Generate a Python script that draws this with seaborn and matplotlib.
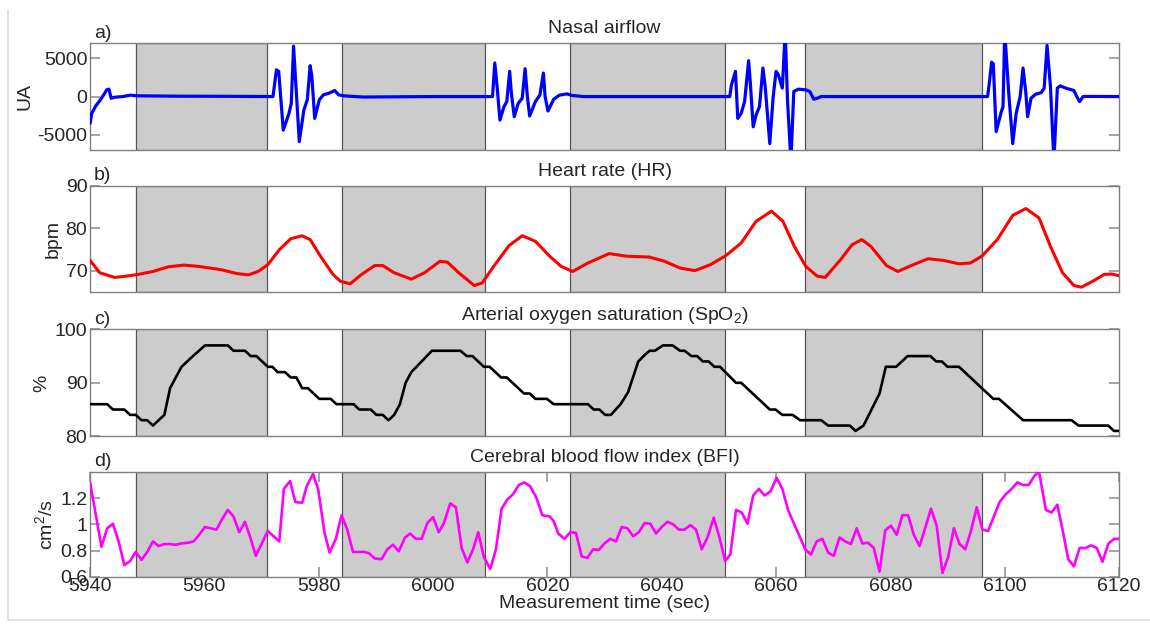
import matplotlib
matplotlib.use("Agg")
import matplotlib.pyplot as plt
from matplotlib.lines import Line2D
import seaborn as sns

# apnea episodes (grey bands), seconds
apnea_start = [5948, 5984, 6024, 6065]
apnea_end = [5971, 6009, 6051, 6096]

# a) nasal airflow (UA)
airflow_t = [5940.0, 5940.3, 5941.0, 5941.8, 5942.5, 5942.9, 5943.3, 5943.7, 5944.3, 5945.7,
             5947.0, 5948.3, 5955.0, 5965.0, 5971.8, 5972.0, 5972.6, 5973.0, 5973.8, 5974.8,
             5975.2, 5975.6, 5976.6, 5977.4, 5978.0, 5978.5, 5978.8, 5979.3, 5980.1, 5980.8,
             5981.8, 5982.8, 5983.5, 5984.5, 5987.8, 6000.0, 6010.2, 6010.4, 6010.8, 6011.2,
             6011.7, 6012.4, 6012.9, 6013.4, 6013.7, 6014.2, 6014.9, 6015.6, 6016.1, 6016.5,
             6016.9, 6017.9, 6018.7, 6019.3, 6019.6, 6020.1, 6021.1, 6022.1, 6023.4, 6024.4,
             6026.4, 6040.0, 6051.9, 6052.2, 6052.9, 6053.3, 6053.9, 6054.5, 6055.2, 6055.5,
             6056.0, 6056.5, 6057.1, 6057.7, 6058.1, 6058.9, 6059.5, 6060.0, 6060.4, 6061.1,
             6061.6, 6062.0, 6062.6, 6063.1, 6063.9, 6065.2, 6065.9, 6066.6, 6067.2, 6067.9,
             6080.0, 6097.0, 6097.3, 6097.7, 6098.0, 6098.5, 6099.4, 6099.7, 6100.0, 6100.7,
             6101.4, 6102.0, 6102.7, 6103.2, 6103.7, 6104.0, 6104.6, 6105.4, 6106.4, 6106.9,
             6107.4, 6108.0, 6108.6, 6109.2, 6109.7, 6110.7, 6112.1, 6112.6, 6113.1, 6113.7,
             6114.1, 6120.0]
airflow_v = [-3520, -2200, -1230, -440, 350, 880, 970, -220, -90, 0,
             180, 100, 50, 30, 0, 0, 3500, 3300, -4400, -2200,
             -880, 6600, -5900, -1760, -440, 4050, 2640, -2860, -440, 220,
             440, 800, 220, 90, -60, 0, 0, 0, 4400, 1320,
             -3080, -1320, -660, 3300, 440, -2640, -880, -220, 3650, 0,
             -2550, -660, 220, 3080, 0, -1890, -350, 180, 350, 130,
             0, 0, 0, 1540, 3300, -2860, -2200, -660, 4700, 1760,
             -3960, -2420, -1320, 3740, 1320, -6160, 0, 3300, 2860, 1100,
             8500, -440, -8500, 660, 970, 880, 660, -350, -220, 0,
             0, 0, 1760, 4500, 4300, -4600, -1980, -1320, 8500, 440,
             -6160, -2200, 0, 3740, 440, -2640, -220, 300, 530, 1100,
             6700, 1320, -8500, 1100, 1400, 1100, 800, 0, -660, 0,
             20, 0]

# b) heart rate (bpm)
hr_t = [5940.0, 5941.7, 5944.3, 5946.3, 5948.4, 5951.0, 5953.7, 5956.4, 5959.0, 5963.0,
        5965.7, 5967.7, 5969.4, 5971.1, 5973.1, 5975.1, 5977.1, 5978.5, 5980.5, 5982.5,
        5983.8, 5985.5, 5987.5, 5989.8, 5991.2, 5993.2, 5996.2, 5998.5, 6001.2, 6002.5,
        6004.5, 6007.2, 6008.6, 6010.6, 6013.3, 6015.6, 6017.9, 6020.4, 6022.4, 6024.4,
        6027.1, 6030.8, 6033.8, 6037.8, 6040.5, 6043.2, 6045.8, 6048.5, 6051.2, 6053.9,
        6056.5, 6059.2, 6061.2, 6063.2, 6065.2, 6067.2, 6068.6, 6071.3, 6073.3, 6075.0,
        6076.6, 6079.3, 6081.3, 6084.0, 6086.6, 6089.3, 6092.0, 6094.0, 6096.0, 6098.7,
        6101.4, 6103.7, 6106.0, 6108.0, 6110.1, 6112.1, 6113.4, 6115.4, 6117.4, 6118.7,
        6120.0]
hr_v = [72.4, 69.5, 68.4, 68.7, 69.1, 69.8, 70.9, 71.3, 71.0, 70.2,
        69.3, 69.0, 69.8, 71.4, 74.9, 77.5, 78.2, 77.3, 73.0, 69.1,
        67.5, 66.9, 69.1, 71.2, 71.2, 69.5, 68.0, 69.5, 72.2, 72.0,
        69.5, 66.5, 67.1, 71.0, 75.9, 78.2, 76.9, 73.4, 71.0, 69.8,
        71.8, 74.0, 73.4, 73.2, 72.2, 70.6, 70.0, 71.4, 73.5, 76.5,
        81.6, 84.0, 81.6, 75.7, 71.0, 68.7, 68.4, 72.6, 76.1, 77.3,
        75.7, 71.2, 69.8, 71.4, 72.8, 72.4, 71.6, 71.8, 73.4, 77.3,
        83.0, 84.6, 82.4, 75.7, 69.5, 66.5, 66.1, 67.5, 69.1, 69.2,
        68.8]

# c) SpO2 (%)
spo2_t = [5940.0, 5943.0, 5944.0, 5946.0, 5947.0, 5948.0, 5949.0, 5950.0, 5951.0, 5953.0,
          5954.0, 5956.0, 5957.7, 5960.1, 5964.1, 5965.1, 5967.1, 5968.1, 5969.1, 5971.1,
          5971.9, 5972.8, 5974.1, 5975.1, 5976.1, 5977.1, 5978.1, 5980.1, 5982.1, 5983.1,
          5986.1, 5987.1, 5989.1, 5990.1, 5991.2, 5992.2, 5993.2, 5994.2, 5995.2, 5996.2,
          5999.8, 6004.8, 6005.9, 6006.9, 6008.9, 6009.9, 6011.9, 6012.9, 6015.9, 6016.9,
          6017.9, 6019.9, 6021.1, 6027.1, 6028.1, 6029.1, 6030.1, 6031.1, 6032.8, 6034.1,
          6035.9, 6037.1, 6037.9, 6038.8, 6040.2, 6041.9, 6043.2, 6044.0, 6045.2, 6046.2,
          6047.2, 6048.2, 6049.2, 6050.2, 6053.0, 6053.9, 6058.9, 6059.9, 6061.1, 6062.9,
          6064.2, 6067.9, 6069.1, 6072.9, 6073.9, 6075.3, 6078.1, 6079.2, 6081.0, 6083.0,
          6087.0, 6088.0, 6089.0, 6090.0, 6092.0, 6098.0, 6099.0, 6103.2, 6111.7, 6112.9,
          6118.1, 6119.1, 6120.0]
spo2_v = [86, 86, 85, 85, 84, 84, 83, 83, 82, 84,
          89, 93, 94.7, 97, 97, 96, 96, 95, 95, 93,
          93, 92, 92, 91, 91, 89, 89, 87, 87, 86,
          86, 85, 85, 84, 84, 83, 84, 86, 90, 92,
          96, 96, 95, 95, 93, 93, 91, 91, 88, 88,
          87, 87, 86, 86, 85, 85, 84, 84, 86, 88.2,
          94, 95.3, 96, 96, 97, 97, 96, 96, 95, 95,
          94, 94, 93, 93, 90, 90, 85, 85, 84, 84,
          83, 83, 82, 82, 81, 82, 88, 93, 93, 95,
          95, 94, 94, 93, 93, 87, 87, 83, 83, 82,
          82, 81, 81]

# d) cerebral blood flow index (cm^2/s)
bfi_t = [5940.0, 5942.0, 5943.0, 5944.0, 5945.0, 5946.0, 5947.0, 5948.0, 5949.0, 5950.0,
         5951.0, 5952.0, 5953.0, 5954.0, 5955.0, 5956.0, 5957.1, 5958.1, 5958.9, 5960.1,
         5962.1, 5963.1, 5964.1, 5965.1, 5966.1, 5967.1, 5968.1, 5969.0, 5970.1, 5971.1,
         5973.1, 5973.9, 5975.0, 5975.9, 5977.1, 5977.9, 5979.0, 5979.9, 5981.0, 5981.9,
         5983.0, 5984.0, 5985.0, 5986.0, 5988.0, 5988.8, 5989.8, 5991.0, 5992.0, 5993.0,
         5994.0, 5995.1, 5996.0, 5997.0, 5998.0, 5999.0, 6000.0, 6001.0, 6001.9, 6003.0,
         6004.0, 6005.0, 6006.0, 6007.0, 6007.9, 6008.9, 6010.0, 6011.0, 6012.0, 6013.0,
         6014.0, 6015.0, 6016.0, 6017.0, 6018.1, 6019.1, 6020.4, 6021.1, 6021.9, 6023.0,
         6024.0, 6025.0, 6026.0, 6027.0, 6028.0, 6029.0, 6030.0, 6031.0, 6032.0, 6033.0,
         6034.0, 6035.0, 6036.0, 6037.0, 6038.0, 6039.0, 6040.0, 6041.0, 6042.0, 6043.0,
         6044.0, 6045.0, 6046.0, 6047.0, 6048.0, 6049.1, 6050.1, 6051.1, 6052.0, 6053.0,
         6054.0, 6055.0, 6056.0, 6057.0, 6058.0, 6059.0, 6060.1, 6061.1, 6062.1, 6063.1,
         6064.1, 6065.1, 6066.1, 6067.1, 6068.1, 6069.1, 6070.1, 6071.1, 6072.1, 6073.1,
         6074.1, 6075.1, 6076.1, 6077.1, 6078.1, 6079.1, 6080.1, 6081.1, 6082.1, 6083.1,
         6084.1, 6085.1, 6086.1, 6087.1, 6088.1, 6089.1, 6090.1, 6091.1, 6092.1, 6093.1,
         6094.1, 6095.1, 6096.1, 6097.1, 6098.1, 6099.1, 6100.2, 6101.2, 6102.2, 6103.2,
         6104.2, 6105.2, 6106.0, 6107.2, 6108.2, 6109.2, 6110.2, 6111.1, 6112.1, 6113.1,
         6114.1, 6115.1, 6116.1, 6117.1, 6118.1, 6119.1, 6120.0]
bfi_v = [1.32, 0.83, 0.97, 1.005, 0.87, 0.69, 0.72, 0.79, 0.73, 0.79,
         0.87, 0.835, 0.85, 0.85, 0.845, 0.855, 0.86, 0.87, 0.91, 0.98,
         0.96, 1.04, 1.11, 1.06, 0.94, 1.02, 0.89, 0.76, 0.86, 0.95,
         0.87, 1.27, 1.33, 1.17, 1.165, 1.29, 1.385, 1.27, 0.94, 0.785,
         0.89, 1.07, 0.96, 0.79, 0.79, 0.78, 0.74, 0.735, 0.81, 0.845,
         0.795, 0.90, 0.93, 0.89, 0.89, 1.01, 1.055, 0.94, 1.01, 1.16,
         1.13, 0.82, 0.71, 0.81, 0.94, 0.75, 0.66, 0.81, 1.12, 1.19,
         1.23, 1.30, 1.32, 1.29, 1.20, 1.07, 1.06, 1.025, 0.93, 0.89,
         0.94, 0.935, 0.755, 0.745, 0.81, 0.805, 0.855, 0.89, 0.87, 0.98,
         0.97, 0.91, 0.94, 1.01, 1.005, 0.93, 0.98, 1.02, 1.0, 0.96,
         0.96, 0.995, 0.96, 0.81, 0.90, 1.05, 0.90, 0.72, 0.77, 1.11,
         1.09, 1.005, 1.22, 1.27, 1.22, 1.25, 1.355, 1.27, 1.11, 1.01,
         0.91, 0.81, 0.77, 0.87, 0.89, 0.785, 0.76, 0.90, 0.87, 0.85,
         0.97, 0.855, 0.86, 0.82, 0.64, 0.955, 0.99, 0.92, 1.07, 1.07,
         0.92, 0.835, 0.975, 1.12, 0.99, 0.63, 0.75, 0.97, 0.85, 0.81,
         0.95, 1.13, 0.96, 0.95, 1.06, 1.17, 1.23, 1.27, 1.32, 1.30,
         1.30, 1.37, 1.40, 1.11, 1.09, 1.15, 0.94, 0.735, 0.68, 0.82,
         0.82, 0.84, 0.82, 0.715, 0.85, 0.89, 0.89]

time_ticks = [5940, 5960, 5980, 6000, 6020, 6040, 6060, 6080, 6100, 6120]

panels = [
    ("a)", "Nasal airflow", "UA", airflow_t, airflow_v, "#0000ff", 2.3,
     (-7000, 7000), [-5000, 0, 5000], ["-5000", "0", "5000"], (0.760, 0.171)),
    ("b)", "Heart rate (HR)", "bpm", hr_t, hr_v, "#ff0000", 2.2,
     (65, 90), [70, 80, 90], ["70", "80", "90"], (0.533, 0.170)),
    ("c)", "Arterial oxygen saturation (SpO$_2$)", "%", spo2_t, spo2_v, "#000000", 1.9,
     (80, 100), [80, 90, 100], ["80", "90", "100"], (0.302, 0.171)),
    ("d)", "Cerebral blood flow index (BFI)", "cm$^2$/s", bfi_t, bfi_v, "#ff00ff", 1.9,
     (0.6, 1.4), [0.6, 0.8, 1.0, 1.2], ["0.6", "0.8", "1", "1.2"], (0.077, 0.168)),
]

sns.set_theme(style="white")
plt.rcParams["font.family"] = ["Liberation Sans", "DejaVu Sans"]
plt.rcParams["mathtext.fontset"] = "custom"
plt.rcParams["mathtext.rm"] = "Liberation Sans"
plt.rcParams["mathtext.it"] = "Liberation Sans"
plt.rcParams["axes.unicode_minus"] = False

fig = plt.figure(figsize=(11.5, 6.25), dpi=100)

for i, (letter, title, ylabel, t, v, color, lw, ylim, yticks, ylabels, box) in enumerate(panels):
    ax = fig.add_axes([0.0783, box[0], 0.8948, box[1]])
    for s, e in zip(apnea_start, apnea_end):
        ax.axvspan(s, e, facecolor="#cccccc", edgecolor="#555555", linewidth=0.9, zorder=1)
    sns.lineplot(x=t, y=v, ax=ax, color=color, linewidth=lw, estimator=None, zorder=3)
    ax.set_xlim(5940, 6120)
    ax.set_ylim(*ylim)
    ax.set_yticks(yticks)
    ax.set_yticklabels(ylabels)
    ax.tick_params(axis="y", direction="in", left=True, right=True, length=7,
                   color="#999999", labelsize=14, pad=2)
    if i == 3:
        ax.set_xticks(time_ticks)
        ax.set_xticklabels([str(x) for x in time_ticks])
        ax.tick_params(axis="x", direction="in", bottom=True, top=True, length=7,
                       color="#999999", labelsize=14, pad=1)
        ax.set_xlabel("Measurement time (sec)", fontsize=14, labelpad=0)
    else:
        ax.set_xticks([])
    ax.set_axisbelow(True)
    for sp in ax.spines.values():
        sp.set_color("#808080")
        sp.set_linewidth(1.0)
    ax.set_title(title, fontsize=14, pad=7)
    ax.text(0.004, 1.015, letter, transform=ax.transAxes, fontsize=14, va="bottom")
    ax.set_ylabel(ylabel, fontsize=14, labelpad=3)

# faint frame of the original screenshot
fig.add_artist(Line2D([8 / 1150, 8 / 1150], [5 / 625, 615 / 625], color="#dddddd", linewidth=1.2))
fig.add_artist(Line2D([8 / 1150, 1.0], [5 / 625, 5 / 625], color="#dddddd", linewidth=1.2))

fig.savefig("out.png", dpi=100)
